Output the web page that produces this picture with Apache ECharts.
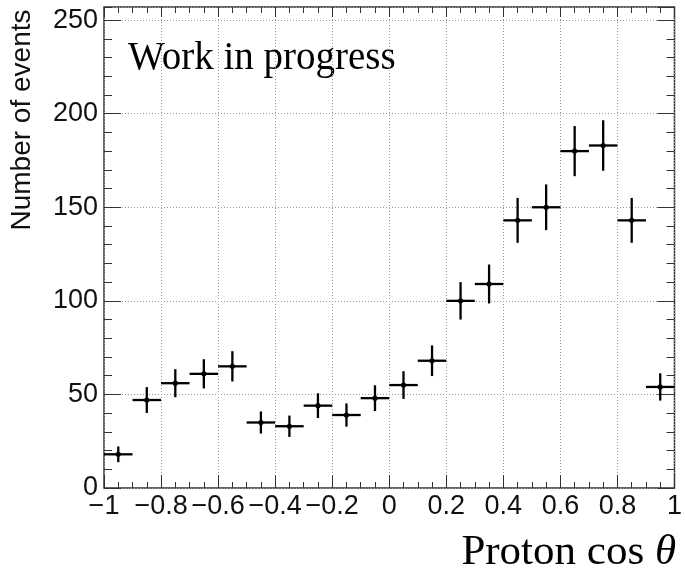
<!DOCTYPE html>
<html>
<head>
<meta charset="utf-8">
<style>
  html, body { margin: 0; padding: 0; background: #fff; }
  #chart { width: 685px; height: 574px; }
</style>
<script src="https://cdn.jsdelivr.net/npm/echarts@6/dist/echarts.min.js"></script>
</head>
<body>
<div id="chart"></div>
<script>
// Histogram of proton cos(theta), 20 bins of width 0.1 on [-1, 1]
const binCenters = [-0.95, -0.85, -0.75, -0.65, -0.55, -0.45, -0.35, -0.25, -0.15, -0.05,
                     0.05,  0.15,  0.25,  0.35,  0.45,  0.55,  0.65,  0.75,  0.85,  0.95];
const counts     = [18, 47, 56, 61, 65, 35, 33, 44, 39, 48,
                    55, 68, 100, 109, 143, 150, 180, 183, 143, 54];
const errors     = [4.2, 6.9, 7.5, 7.8, 8.1, 5.9, 5.7, 6.6, 6.2, 6.9,
                    7.4, 8.2, 10.0, 10.4, 12.0, 12.2, 13.4, 13.5, 12.0, 7.3];
const binWidth = 0.1;

const xMin = -1, xMax = 1, yMin = 0, yMax = 257;

const chart = echarts.init(document.getElementById('chart'), null, { renderer: 'canvas' });

const sansFont = '"Liberation Sans", Arial, Helvetica, sans-serif';
const serifFont = '"Liberation Serif", "Times New Roman", serif';
const frameColor = '#333';
const gridLine = { show: true, lineStyle: { color: '#9a9a9a', width: 1, type: [1, 2] } };

function fmtX(v) {
  const s = String(+v.toFixed(2));
  return s.replace('-', '\u2212');
}

function xAxisDef(pos, interval, tickLen, opts) {
  return Object.assign({
    type: 'value', position: pos, min: xMin, max: xMax, interval: interval,
    axisLine: { show: false, onZero: false },
    axisTick: { show: true, inside: true, length: tickLen, lineStyle: { color: frameColor, width: 1 } },
    axisLabel: { show: false },
    splitLine: { show: false }
  }, opts || {});
}
function yAxisDef(pos, interval, tickLen, opts) {
  return Object.assign({
    type: 'value', position: pos, min: yMin, max: yMax, interval: interval,
    axisLine: { show: false, onZero: false },
    axisTick: { show: true, inside: true, length: tickLen, lineStyle: { color: frameColor, width: 1 } },
    axisLabel: { show: false },
    splitLine: { show: false }
  }, opts || {});
}

const option = {
  animation: false,
  backgroundColor: '#fff',
  grid: {
    left: 104, right: 6, top: 7, bottom: 86,
    show: true, borderColor: frameColor, borderWidth: 1.5, backgroundColor: 'transparent'
  },
  xAxis: [
    xAxisDef('bottom', 0.2, 13, {
      axisLabel: {
        show: true, margin: 5, color: '#111', fontFamily: sansFont, fontSize: 27,
        formatter: fmtX
      },
      splitLine: gridLine
    }),
    xAxisDef('bottom', 0.05, 6),
    xAxisDef('top', 0.2, 10),
    xAxisDef('top', 0.05, 6)
  ],
  yAxis: [
    yAxisDef('left', 50, 17, {
      axisLabel: {
        show: true, margin: 6, color: '#111', fontFamily: sansFont, fontSize: 27,
        showMaxLabel: false,
        formatter: v => (v % 50 === 0 ? String(v) : '')
      },
      splitLine: gridLine
    }),
    yAxisDef('left', 10, 8),
    yAxisDef('right', 50, 17),
    yAxisDef('right', 10, 8)
  ],
  series: [{
    type: 'custom',
    xAxisIndex: 0,
    yAxisIndex: 0,
    clip: true,
    data: binCenters.map((c, i) => [c, counts[i], errors[i]]),
    renderItem: function (params, api) {
      const x = api.value(0), y = api.value(1), e = api.value(2);
      const pL = api.coord([x - binWidth / 2, y]);
      const pR = api.coord([x + binWidth / 2, y]);
      const pT = api.coord([x, y + e]);
      const pB = api.coord([x, y - e]);
      const c = api.coord([x, y]);
      const st = { stroke: '#000', lineWidth: 2.3 };
      return {
        type: 'group',
        children: [
          { type: 'line', shape: { x1: pL[0], y1: pL[1], x2: pR[0], y2: pR[1] }, style: st },
          { type: 'line', shape: { x1: pT[0], y1: pT[1], x2: pB[0], y2: pB[1] }, style: st },
          { type: 'circle', shape: { cx: c[0], cy: c[1], r: 2.6 }, style: { fill: '#000' } }
        ]
      };
    }
  }],
  graphic: [
    {
      type: 'text', x: 22, y: 120, rotation: Math.PI / 2,
      style: {
        text: 'Number of events', font: '28px ' + sansFont, fill: '#111',
        align: 'center', verticalAlign: 'middle'
      }
    },
    {
      type: 'text', x: 128, y: 59,
      style: {
        text: 'Work in progress', font: '39px ' + serifFont, fill: '#000',
        align: 'left', verticalAlign: 'middle'
      }
    },
    {
      type: 'text', x: 676, y: 553,
      style: {
        text: '{a|Proton cos }{b|\u03B8}',
        align: 'right', verticalAlign: 'middle',
        rich: {
          a: { font: '43px ' + serifFont, fill: '#000' },
          b: { font: 'italic 43px ' + serifFont, fill: '#000' }
        }
      }
    }
  ]
};

chart.setOption(option);
</script>
</body>
</html>
